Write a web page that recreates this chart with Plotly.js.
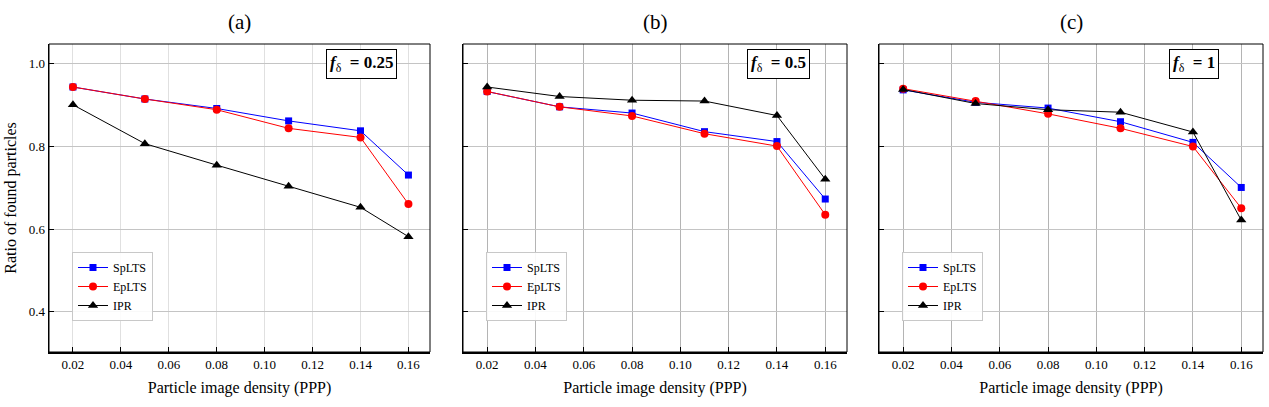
<!DOCTYPE html>
<html>
<head>
<meta charset="utf-8">
<script src="https://cdn.plot.ly/plotly-3.0.1.min.js"></script>
<style>
  html, body { margin: 0; padding: 0; background: #ffffff; }
  #plot { width: 1269px; height: 407px; }
</style>
</head>
<body>
<div id="plot"></div>
<script>
// particle image density (PPP)
const ppp = [0.02, 0.05, 0.08, 0.11, 0.14, 0.16];

// panel (a) f = 0.25
const spltsA = [0.944, 0.915, 0.892, 0.862, 0.838, 0.731];
const epltsA = [0.944, 0.915, 0.889, 0.844, 0.822, 0.661];
const iprA = [0.901, 0.807, 0.755, 0.704, 0.653, 0.582];

// panel (b) f = 0.5
const spltsB = [0.933, 0.896, 0.881, 0.836, 0.812, 0.673];
const epltsB = [0.933, 0.896, 0.874, 0.831, 0.801, 0.635];
const iprB = [0.944, 0.921, 0.912, 0.910, 0.875, 0.721];

// panel (c) f = 1
const spltsC = [0.937, 0.907, 0.893, 0.860, 0.810, 0.701];
const epltsC = [0.940, 0.910, 0.879, 0.844, 0.800, 0.651];
const iprC = [0.938, 0.904, 0.889, 0.883, 0.835, 0.622];

const panelTitles = ["(a)", "(b)", "(c)"];
const fLabels = ["0.25", "0.5", "1"];
const seriesNames = ["SpLTS", "EpLTS", "IPR"];

const xTicks = [0.02, 0.04, 0.06, 0.08, 0.10, 0.12, 0.14, 0.16];
const yTicks = [0.4, 0.6, 0.8, 1.0];

const W = 1269, H = 407;
const FONT = "Liberation Serif";

// pixel boxes of the three plot areas
const panels = [
  { x0: 49, x1: 430 },
  { x0: 463, x1: 847 },
  { x0: 879, x1: 1263 },
];
const plotTop = 44, plotBottom = 352;

const data = [spltsA, epltsA, iprA, spltsB, epltsB, iprB, spltsC, epltsC, iprC];
const styles = [
  { color: "#0000ff", symbol: "square", size: 7 },
  { color: "#ff0000", symbol: "circle", size: 8 },
  { color: "#000000", symbol: "triangle-up", size: 9 },
];

const traces = [];
data.forEach((ys, i) => {
  const p = Math.floor(i / 3);
  const s = styles[i % 3];
  const sfx = p === 0 ? "" : String(p + 1);
  traces.push({
    type: "scatter",
    mode: "lines+markers",
    name: seriesNames[i % 3],
    x: ppp,
    y: ys,
    xaxis: "x" + sfx,
    yaxis: "y" + sfx,
    legend: "legend" + sfx,
    line: { color: s.color, width: 1 },
    marker: { color: s.color, symbol: s.symbol, size: s.size },
  });
});

const layout = {
  width: W,
  height: H,
  paper_bgcolor: "#ffffff",
  plot_bgcolor: "#ffffff",
  margin: { l: 0, r: 0, t: 0, b: 0 },
  font: { family: FONT, color: "#000000", size: 12 },
  showlegend: true,
  annotations: [],
  shapes: [],
};

panels.forEach((pn, p) => {
  const sfx = p === 0 ? "" : String(p + 1);
  const dx = [pn.x0 / W, pn.x1 / W];
  const dy = [1 - plotBottom / H, 1 - plotTop / H];
  const gridCol = p === 0 ? "#e0e0e0" : "#b4b4b4";

  layout["xaxis" + sfx] = {
    domain: dx,
    anchor: "y" + sfx,
    range: [0.01, 0.169],
    tickvals: xTicks,
    tickformat: ".2f",
    ticks: "inside",
    ticklen: 5,
    tickcolor: "#000000",
    showline: true,
    linecolor: "#000000",
    linewidth: 1.5,
    showgrid: true,
    gridcolor: gridCol,
    zeroline: false,
    tickfont: { family: FONT, size: 13 },
    title: { text: "Particle image density (PPP)", font: { family: FONT, size: 16 }, standoff: 10 },
  };
  const yax = {
    domain: dy,
    anchor: "x" + sfx,
    range: [0.303, 1.048],
    tickvals: yTicks,
    tickformat: ".1f",
    ticks: "inside",
    ticklen: 5,
    tickcolor: "#000000",
    showline: true,
    linecolor: "#000000",
    linewidth: 1.5,
    showgrid: true,
    gridcolor: "#c4c4c4",
    zeroline: false,
    showticklabels: p === 0,
    tickfont: { family: FONT, size: 13 },
  };
  if (p === 0) {
    yax.title = { text: "Ratio of found particles", font: { family: FONT, size: 16 }, standoff: 8 };
  }
  layout["yaxis" + sfx] = yax;

  layout["legend" + sfx] = {
    x: (pn.x0 + 23) / W,
    y: 1 - 252 / H,
    xanchor: "left",
    yanchor: "top",
    bgcolor: "rgba(255,255,255,0.9)",
    bordercolor: "#c8c8c8",
    borderwidth: 1,
    itemwidth: 30,
    tracegroupgap: 0,
    font: { family: FONT, size: 12 },
  };

  // frame
  layout.shapes.push({
    type: "rect",
    xref: "paper",
    yref: "paper",
    x0: dx[0], x1: dx[1], y0: dy[0], y1: dy[1],
    line: { color: "#000000", width: 1 },
  });

  // panel title
  layout.annotations.push({
    xref: "paper",
    yref: "paper",
    x: (dx[0] + dx[1]) / 2,
    y: 1 - 22 / H,
    xanchor: "center",
    yanchor: "middle",
    showarrow: false,
    text: panelTitles[p],
    font: { family: FONT, size: 21 },
  });

  // f label box
  layout.annotations.push({
    xref: "paper",
    yref: "paper",
    x: (pn.x1 - 69) / W,
    y: 1 - 63.5 / H,
    xanchor: "center",
    yanchor: "middle",
    showarrow: false,
    text: "<b><i>f</i></b><sub>δ</sub><b>  = " + fLabels[p] + "</b>",
    font: { family: FONT, size: 17 },
    bgcolor: "#ffffff",
    bordercolor: "#000000",
    borderwidth: 1,
    borderpad: 3,
  });
});

Plotly.newPlot("plot", traces, layout, { displayModeBar: false, staticPlot: true });
</script>
</body>
</html>
